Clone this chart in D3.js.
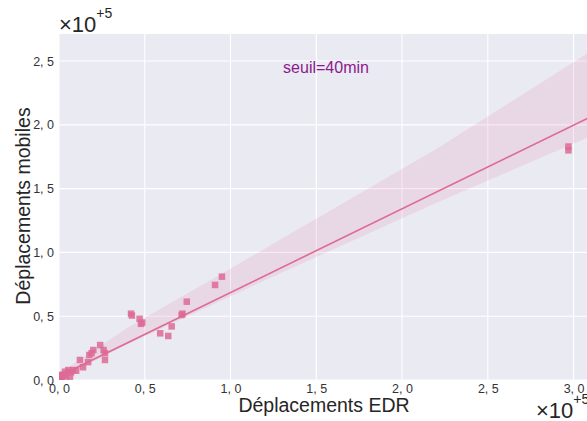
<!DOCTYPE html>
<html>
<head>
<meta charset="utf-8">
<script src="https://cdn.jsdelivr.net/npm/d3@7"></script>
<style>
  html, body { margin: 0; padding: 0; background: #ffffff; }
  svg { display: block; font-family: "Liberation Sans", Arial, sans-serif; }
</style>
</head>
<body>
<svg id="chart" width="587" height="421"></svg>
<script>
// Trip counts (in units of 1e5): EDR trips vs mobile trips
const edrTrips = [0.005, 0.010, 0.012, 0.020, 0.025, 0.016, 0.035, 0.040, 0.054, 0.064,
                  0.070, 0.083, 0.100, 0.122, 0.140, 0.170, 0.177, 0.190, 0.200, 0.240,
                  0.260, 0.268, 0.268, 0.420, 0.425, 0.470, 0.478, 0.485, 0.590, 0.637,
                  0.657, 0.715, 0.720, 0.745, 0.910, 0.950, 2.970, 2.970];
const mobileTrips = [0.005, 0.020, 0.035, 0.010, 0.040, 0.040, 0.065, 0.030, 0.078, 0.026,
                     0.060, 0.078, 0.073, 0.157, 0.100, 0.140, 0.196, 0.210, 0.235, 0.274,
                     0.235, 0.210, 0.157, 0.520, 0.505, 0.480, 0.440, 0.450, 0.366, 0.345,
                     0.420, 0.510, 0.520, 0.614, 0.745, 0.810, 1.800, 1.830];

// Fitted regression line and its confidence band
const fitX = [0, 3.2];
const fitY = [0.03, 2.129];
const bandX = [0, 0.4, 1.1, 2.2, 3.2];
const bandLow = [0.01, 0.28, 0.72, 1.39, 1.97];
const bandHigh = [0.05, 0.41, 0.95, 1.81, 2.66];

const xTicks = [0, 0.5, 1.0, 1.5, 2.0, 2.5, 3.0];
const yTicks = [0, 0.5, 1.0, 1.5, 2.0, 2.5];
const annotation = "seuil=40min";

const svg = d3.select("#chart");
const plotLeft = 59, plotTop = 34, plotRight = 601, plotBottom = 380;

const x = d3.scaleLinear().domain([0, 3.16]).range([plotLeft, plotRight]);
const y = d3.scaleLinear().domain([0, 2.712]).range([plotBottom, plotTop]);

const fmt = v => d3.format(".1f")(v).replace(".", ", ");
const color = "#dd6a95";

// plot background
svg.append("rect")
  .attr("x", plotLeft).attr("y", plotTop)
  .attr("width", plotRight - plotLeft).attr("height", plotBottom - plotTop)
  .attr("fill", "#eaeaf2");

// grid
const grid = svg.append("g");
grid.selectAll(".gx").data(xTicks).join("line")
  .attr("x1", d => x(d)).attr("x2", d => x(d))
  .attr("y1", plotTop).attr("y2", plotBottom)
  .attr("stroke", "#ffffff").attr("stroke-width", 1.1);
grid.selectAll(".gy").data(yTicks).join("line")
  .attr("x1", plotLeft).attr("x2", plotRight)
  .attr("y1", d => y(d)).attr("y2", d => y(d))
  .attr("stroke", "#ffffff").attr("stroke-width", 1.1);

// axes (labels only, seaborn style)
const xAxis = d3.axisBottom(x).tickValues(xTicks).tickFormat(fmt).tickSize(0).tickPadding(4);
const gx = svg.append("g").attr("transform", `translate(0,${plotBottom})`).call(xAxis);
gx.select(".domain").remove();
gx.selectAll("text").attr("font-size", 12.5).attr("fill", "#333333")
  .attr("font-family", "Liberation Sans, Arial, sans-serif");

const yAxis = d3.axisLeft(y).tickValues(yTicks).tickFormat(fmt).tickSize(0).tickPadding(5);
const gy = svg.append("g").attr("transform", `translate(${plotLeft},0)`).call(yAxis);
gy.select(".domain").remove();
gy.selectAll("text").attr("font-size", 12.5).attr("fill", "#333333")
  .attr("font-family", "Liberation Sans, Arial, sans-serif");

// clip for plot marks
svg.append("clipPath").attr("id", "plotclip").append("rect")
  .attr("x", plotLeft).attr("y", plotTop)
  .attr("width", plotRight - plotLeft).attr("height", plotBottom - plotTop);

const marks = svg.append("g").attr("clip-path", "url(#plotclip)");

// confidence band
const band = bandX.map((d, i) => ({ x: d, lo: bandLow[i], hi: bandHigh[i] }));
marks.append("path")
  .datum(band)
  .attr("d", d3.area().x(d => x(d.x)).y0(d => y(d.lo)).y1(d => y(d.hi)))
  .attr("fill", color).attr("fill-opacity", 0.15);

// points
const pts = edrTrips.map((d, i) => ({ x: d, y: mobileTrips[i] }));
const s = 6.5;
marks.selectAll(".pt").data(pts).join("rect")
  .attr("x", d => x(d.x) - s / 2).attr("y", d => y(d.y) - s / 2)
  .attr("width", s).attr("height", s)
  .attr("fill", color).attr("fill-opacity", 0.85);

// regression line
marks.append("path")
  .datum(fitX.map((d, i) => ({ x: d, y: fitY[i] })))
  .attr("d", d3.line().x(d => x(d.x)).y(d => y(d.y)))
  .attr("fill", "none").attr("stroke", color).attr("stroke-width", 1.6);

// annotation
svg.append("text")
  .attr("x", 326).attr("y", 73)
  .attr("text-anchor", "middle")
  .attr("font-size", 16).attr("fill", "#8b1a8b")
  .text(annotation);

// axis titles
svg.append("text")
  .attr("x", 324).attr("y", 412)
  .attr("text-anchor", "middle")
  .attr("font-size", 19.5).attr("fill", "#262626")
  .text("Déplacements EDR");
svg.append("text")
  .attr("transform", "translate(30,206) rotate(-90)")
  .attr("text-anchor", "middle")
  .attr("font-size", 19.5).attr("fill", "#262626")
  .text("Déplacements mobiles");

// scale multipliers
function multiplier(xp, yp) {
  const t = svg.append("text").attr("x", xp).attr("y", yp)
    .attr("font-size", 22).attr("fill", "#262626");
  t.append("tspan").text("×10");
  t.append("tspan").attr("dy", -14).attr("font-size", 14).text("+5");
}
multiplier(59, 32);
multiplier(536, 418);
</script>
</body>
</html>
